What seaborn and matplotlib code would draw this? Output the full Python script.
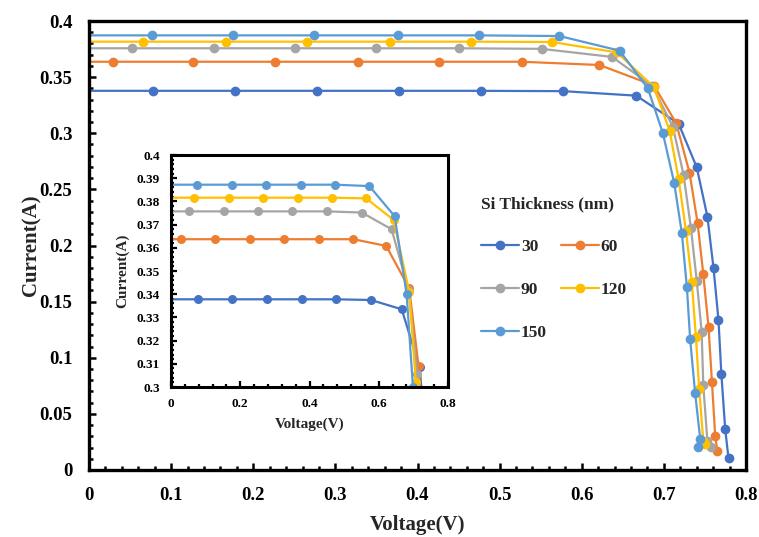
import numpy as np
import pandas as pd
import matplotlib
matplotlib.use("Agg")
import matplotlib.pyplot as plt
from matplotlib.ticker import MultipleLocator, FuncFormatter
import seaborn as sns

# I-V data (V in volts, I in amps)
v30 = [-0.0224, 0.0776, 0.1776, 0.2776, 0.3776, 0.4776, 0.5776, 0.6663, 0.718, 0.740, 0.753, 0.7605, 0.7665, 0.770, 0.7747, 0.7787]
i30 = [0.3378, 0.3378, 0.3378, 0.3378, 0.3378, 0.3378, 0.3375, 0.3335, 0.3085, 0.2697, 0.2257, 0.1797, 0.1336, 0.0855, 0.0362, 0.0104]

v60 = [-0.0712, 0.0288, 0.127, 0.227, 0.327, 0.4267, 0.527, 0.6216, 0.688, 0.715, 0.7312, 0.741, 0.748, 0.7544, 0.7585, 0.7625, 0.765]
i60 = [0.3637, 0.3637, 0.3637, 0.3637, 0.3637, 0.3637, 0.3637, 0.3608, 0.3425, 0.3089, 0.265, 0.2203, 0.1746, 0.1271, 0.0787, 0.0303, 0.0172]

v90 = [-0.0476, 0.0524, 0.152, 0.2505, 0.350, 0.4507, 0.551, 0.637, 0.686, 0.711, 0.724, 0.733, 0.740, 0.746, 0.748, 0.753, 0.757]
i90 = [0.3757, 0.3757, 0.3757, 0.3757, 0.3757, 0.3757, 0.3752, 0.368, 0.342, 0.3058, 0.2628, 0.2153, 0.1687, 0.1232, 0.0757, 0.0255, 0.0202]

v120 = [-0.0346, 0.0654, 0.1665, 0.266, 0.3666, 0.465, 0.5636, 0.643, 0.688, 0.707, 0.718, 0.727, 0.734, 0.739, 0.743, 0.748, 0.750]
i120 = [0.3816, 0.3816, 0.3816, 0.3816, 0.3816, 0.3816, 0.3813, 0.372, 0.341, 0.3023, 0.259, 0.2125, 0.1678, 0.1187, 0.0719, 0.026, 0.0232]

v150 = [-0.0237, 0.0763, 0.1758, 0.2745, 0.376, 0.4747, 0.5729, 0.646, 0.6805, 0.6988, 0.7125, 0.7219, 0.728, 0.732, 0.738, 0.7443, 0.741]
i150 = [0.3872, 0.3872, 0.3872, 0.3872, 0.3872, 0.3872, 0.3866, 0.3736, 0.340, 0.300, 0.256, 0.2109, 0.163, 0.1164, 0.0689, 0.0273, 0.0202]

thickness = ["30", "60", "90", "120", "150"]
colors = ["#4472C4", "#ED7D31", "#A5A5A5", "#FFC000", "#5B9BD5"]

frames = []
for name, v, i in zip(thickness, [v30, v60, v90, v120, v150], [i30, i60, i90, i120, i150]):
    frames.append(pd.DataFrame({"Voltage": v, "Current": i, "Si Thickness (nm)": name}))
df = pd.concat(frames, ignore_index=True)

sns.set_style("ticks")
plt.rcParams["font.family"] = ["Liberation Serif", "DejaVu Serif"]
plt.rcParams["font.weight"] = "bold"

fig = plt.figure(figsize=(7.59, 5.37), dpi=100)
ax = fig.add_axes([89 / 759, 1 - 470 / 537, 657 / 759, 449 / 537])

palette = dict(zip(thickness, colors))
line_kw = dict(x="Voltage", y="Current", hue="Si Thickness (nm)", hue_order=thickness,
               palette=palette, estimator=None, sort=False,
               marker="o", markeredgewidth=0, linewidth=1.6)

sns.lineplot(data=df, ax=ax, markersize=7, legend=True, **line_kw)


def fmt(x, pos):
    return f"{x:g}"


def style_axes(a, lw):
    for s in a.spines.values():
        s.set_linewidth(lw)
        s.set_color("black")
    a.tick_params(which="both", direction="in", top=False, right=False, colors="black")


ax.set_xlim(0, 0.8)
ax.set_ylim(0, 0.4)
ax.xaxis.set_major_locator(MultipleLocator(0.1))
ax.xaxis.set_minor_locator(MultipleLocator(0.02))
ax.yaxis.set_major_locator(MultipleLocator(0.05))
ax.yaxis.set_minor_locator(MultipleLocator(0.01))
ax.xaxis.set_major_formatter(FuncFormatter(fmt))
ax.yaxis.set_major_formatter(FuncFormatter(fmt))
style_axes(ax, 2.4)
ax.tick_params(which="major", length=5, width=1.8, labelsize=13.5, pad=12)
ax.tick_params(which="minor", length=3, width=1.8)
ax.set_xlabel("Voltage(V)", fontsize=15, fontweight="bold")
ax.set_ylabel("Current(A)", fontsize=15, fontweight="bold")
ax.xaxis.set_label_coords(0.5, -0.10)
ax.yaxis.set_label_coords(-0.072, 0.5)

# legend filled row by row: 30 60 / 90 120 / 150
handles, labels = ax.get_legend_handles_labels()
order = [0, 2, 4, 1, 3]
leg = ax.legend([handles[k] for k in order], [labels[k] for k in order],
                title="Si Thickness (nm)", ncol=2, frameon=False,
                loc="upper left", bbox_to_anchor=(474 / 759, 1 - 189 / 537),
                bbox_transform=fig.transFigure, fontsize=12.5, title_fontsize=12.5,
                handlelength=2.2, handletextpad=0.1, columnspacing=0.8,
                labelspacing=1.55, alignment="left", borderaxespad=0)
leg.get_title().set_fontweight("bold")
for t in leg.get_texts():
    t.set_fontweight("bold")

# inset: zoom on the top of the curves
axin = fig.add_axes([171 / 759, 1 - 387 / 537, 277 / 759, 232 / 537])
axin.set_facecolor("white")
sns.lineplot(data=df, ax=axin, markersize=6.5, legend=False, **line_kw)
axin.set_xlim(0, 0.8)
axin.set_ylim(0.3, 0.4)
axin.xaxis.set_major_locator(MultipleLocator(0.2))
axin.xaxis.set_minor_locator(MultipleLocator(0.04))
axin.yaxis.set_major_locator(MultipleLocator(0.01))
axin.yaxis.set_minor_locator(MultipleLocator(0.002))
axin.xaxis.set_major_formatter(FuncFormatter(fmt))
axin.yaxis.set_major_formatter(FuncFormatter(fmt))
style_axes(axin, 2.2)
axin.tick_params(which="major", length=4, width=1.6, labelsize=9.5, pad=8)
axin.tick_params(which="minor", length=2.5, width=1.6)
axin.set_xlabel("Voltage(V)", fontsize=11, fontweight="bold")
axin.set_ylabel("Current(A)", fontsize=11, fontweight="bold")
axin.xaxis.set_label_coords(0.5, -0.13)
axin.yaxis.set_label_coords(-0.15, 0.5)

fig.savefig("out.png", dpi=100)
